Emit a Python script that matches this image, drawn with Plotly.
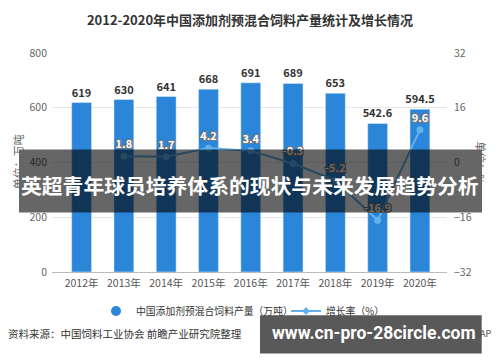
import plotly.graph_objects as go

years = ["2012年", "2013年", "2014年", "2015年", "2016年", "2017年", "2018年", "2019年", "2020年"]
output = [619, 630, 641, 668, 691, 689, 653, 542.6, 594.5]
growth_years = ["2013年", "2014年", "2015年", "2016年", "2017年", "2018年", "2019年", "2020年"]
growth = [1.8, 1.7, 4.2, 3.4, -0.3, -5.2, -16.9, 9.6]
output_labels = ["619", "630", "641", "668", "691", "689", "653", "542.6", "594.5"]
growth_labels = ["1.8", "1.7", "4.2", "3.4", "-0.3", "-5.2", "-16.9", "9.6"]

FONT = "Noto Sans CJK SC, Noto Sans, sans-serif"
BAR = "#2b86d9"
LINE = "#62b2ee"

# page body has an 8px margin; figure is drawn at that offset
OFF = 8
W, H = 500 - OFF, 362 - OFF
L, T = 52 - OFF, 52.7 - OFF
R, B = W - (447 - OFF), H - (271.7 - OFF)
PW, PH = W - L - R, H - T - B


def px(X):
    return (X - OFF - L) / PW


def py(Y):
    return (H - B - (Y - OFF)) / PH


def cx(X):
    return (X - OFF) / W


def cy(Y):
    return 1 - (Y - OFF) / H


fig = go.Figure()
fig.add_trace(go.Bar(
    x=years, y=output, text=output_labels, textposition="outside", constraintext="none",
    textfont=dict(size=11, color="#333", family=FONT, weight="bold"),
    marker=dict(color=BAR), width=0.47, cliponaxis=False, showlegend=False,
))
fig.add_trace(go.Scatter(
    x=growth_years, y=growth, yaxis="y2", mode="lines+markers+text",
    text=growth_labels, textposition="top center",
    textfont=dict(size=11, color="white", family=FONT, weight="bold",
                  shadow="-1px -1px 0 #777, 1px -1px 0 #777, -1px 1px 0 #777, 1px 1px 0 #777"),
    line=dict(color=LINE, width=2), marker=dict(color=LINE, size=7),
    cliponaxis=False, showlegend=False,
))
# legend entries
fig.add_trace(go.Scatter(x=[None], y=[None], mode="markers", name="中国添加剂预混合饲料产量（万吨）",
                         marker=dict(color=BAR, size=10, symbol="circle"), legend="legend"))
fig.add_trace(go.Scatter(x=[None], y=[None], mode="lines+markers", name="增长率（%）", yaxis="y2",
                         line=dict(color=LINE, width=2), marker=dict(color=LINE, size=6, symbol="diamond"),
                         legend="legend2"))

leg_common = dict(orientation="h", xref="container", xanchor="left", yref="container", yanchor="middle",
                  y=cy(311), font=dict(size=9.8, color="#333", family=FONT), itemwidth=30,
                  bgcolor="rgba(0,0,0,0)")

fig.update_layout(
    width=W, height=H, margin=dict(l=L, r=R, t=T, b=B, autoexpand=False),
    paper_bgcolor="white", plot_bgcolor="white",
    font=dict(family=FONT, size=11, color="#666"),
    title=dict(text="<b>2012-2020年中国添加剂预混合饲料产量统计及增长情况</b>", x=cx(250), xanchor="center",
               xref="container", y=cy(20), yref="container", yanchor="middle",
               font=dict(size=13, color="#333", family=FONT)),
    xaxis=dict(range=[-0.70, 8.64], showgrid=False, showline=True, linecolor="#bbb", linewidth=1,
               ticks="", tickfont=dict(size=10.5, color="#555"), ticklabelstandoff=1, fixedrange=True),
    yaxis=dict(range=[0, 800], dtick=200, showgrid=True, gridcolor="#e6e6e6", zeroline=False,
               tickfont=dict(size=10.5, color="#666"), ticklabelstandoff=4),
    yaxis2=dict(range=[-32, 32], dtick=16, overlaying="y", side="right", showgrid=False, zeroline=False,
                tickfont=dict(size=10.5, color="#666"), ticklabelstandoff=6),
    legend=dict(x=cx(96), **leg_common),
    legend2=dict(x=cx(286), **leg_common),
    bargap=0.53,
)

shapes = [
    dict(type="rect", xref="paper", yref="paper", x0=px(19), x1=px(482), y0=py(212.3), y1=py(149.3),
         fillcolor="rgba(0,0,0,0.6)", line=dict(width=0), layer="above"),
    dict(type="rect", xref="paper", yref="paper", x0=px(260), x1=px(481.7), y0=py(353.3), y1=py(315),
         fillcolor="rgba(0,0,0,0.65)", line=dict(width=0), layer="above"),
]


def ann(text, X, Y, size, color, xanchor="center", angle=0, family=FONT):
    return dict(text=text, x=px(X), y=py(Y), xref="paper", yref="paper", showarrow=False,
                xanchor=xanchor, yanchor="middle", textangle=angle,
                font=dict(size=size, color=color, family=family))


annotations = [
    ann("单位：万吨", 18, 162, 11, "#666", angle=-90),
    ann("单位：%", 481, 162, 11, "#666", angle=90),
    ann("资料来源：中国饲料工业协会 前瞻产业研究院整理", 6, 333, 10.5, "#333", xanchor="left"),
    ann("APP", 499, 333, 9, "#555", xanchor="right"),
    ann("<b>英超青年球员培养体系的现状与未来发展趋势分析</b>", 250, 185, 20.8, "white"),
    ann("<b>www.cn-pro-28circle.com</b>", 374, 333, 17.5, "white", family="Roboto, Open Sans, sans-serif"),
]
fig.update_layout(shapes=shapes, annotations=annotations)
fig.write_html("out.html")
